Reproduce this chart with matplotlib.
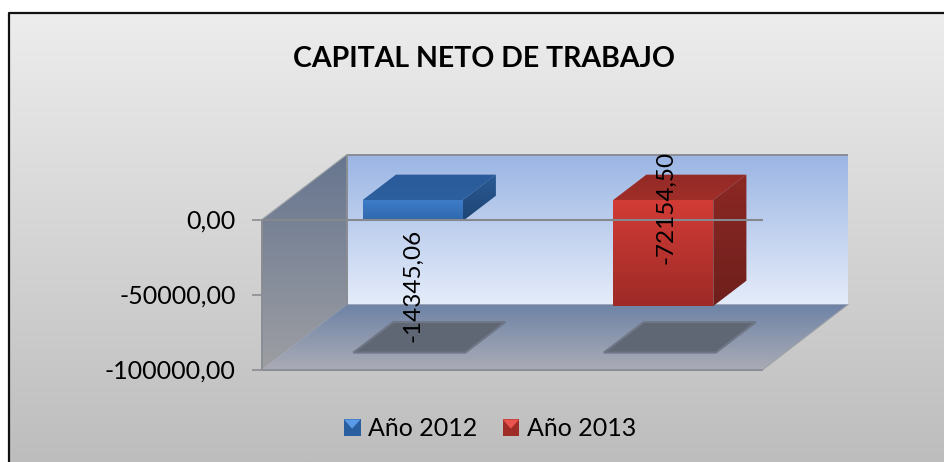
import numpy as np
import matplotlib
matplotlib.use("Agg")
import matplotlib.pyplot as plt
from matplotlib.patches import Polygon, Patch, Rectangle
from matplotlib.colors import LinearSegmentedColormap
from matplotlib.legend_handler import HandlerBase
from matplotlib.ticker import FuncFormatter

# data
categories = ["Año 2012", "Año 2013"]
values = [-14345.06, -72154.50]
value_labels = ["-14345,06", "-72154,50"]
y_ticks = [0, -50000, -100000]
title = "CAPITAL NETO DE TRABAJO"

# style
W, H = 944, 462
FONT = ["Lato", "DejaVu Sans"]
TEXT_SIZE = 18
GREY = "#8a8d93"

BAR_STYLES = [
    {"front": ("#3f7dca", "#2f67ab"), "top": ("#2a5a9a", "#2c609f"), "side": ("#2a5a94", "#1e4575")},
    {"front": ("#d33c36", "#9d2a27"), "top": ("#932a26", "#a02e29"), "side": ("#8c2824", "#6e1f1c")},
]

plt.rcParams["font.family"] = FONT

fig = plt.figure(figsize=(W / 100, H / 100), dpi=100, facecolor="white")

# the axes is the front plane of the 3d box
ax = fig.add_axes([262 / W, 1 - 369.5 / H, 501 / W, 150 / H])
ax.set_xlim(0, 2)
ax.set_ylim(-100000, 0)
ax.patch.set_visible(False)

X_PX = 501 / 2
Y_PX = 150 / 100000
DX = 85 / X_PX      # depth offset, x data units
DY = 65 / Y_PX      # depth offset, y data units
BAR_W = 100 / X_PX
BAR_D0, BAR_D1 = 0.30, 0.69
BAR_K = 0.98        # bars come out slightly shorter than the front scale


def proj(x, y, d=0.0):
    return (x + d * DX, y + d * DY)


def grad_poly(pts, c0, c1, zorder=1):
    # vertical gradient inside a polygon, c0 at the top, c1 at the bottom
    pts = np.array(pts)
    cmap = LinearSegmentedColormap.from_list("g", [c0, c1])
    g = np.linspace(0, 1, 256).reshape(-1, 1)
    im = ax.imshow(g, cmap=cmap, vmin=0, vmax=1, aspect="auto", origin="upper",
                   extent=(pts[:, 0].min(), pts[:, 0].max(), pts[:, 1].min(), pts[:, 1].max()),
                   zorder=zorder, interpolation="bilinear")
    clip = Polygon(pts, closed=True, transform=ax.transData, fill=False, edgecolor="none")
    ax.add_patch(clip)
    im.set_clip_box(fig.bbox)
    im.set_clip_path(clip)
    return im


# figure background and frame (open on the right and at the bottom)
bg_ax = fig.add_axes([0, 0, 1, 1], zorder=-1)
bg_ax.axis("off")
bg_cmap = LinearSegmentedColormap.from_list("bg", ["#ededed", "#bdbdbd"])
bg_ax.imshow(np.linspace(0, 1, 256).reshape(-1, 1), cmap=bg_cmap, aspect="auto",
             extent=(9, W, H, 13), zorder=0)
bg_ax.set_xlim(0, W)
bg_ax.set_ylim(H, 0)
bg_ax.plot([8.5, 8.5, W], [H, 12.5, 12.5], color="#111111", lw=1.6, zorder=2)

# walls
wall_back = [proj(0, 0, 1), proj(2, 0, 1), proj(2, -100000, 1), proj(0, -100000, 1)]
grad_poly(wall_back, "#9bb5e4", "#e4ecf9")
wall_left = [proj(0, 0, 0), proj(0, 0, 1), proj(0, -100000, 1), proj(0, -100000, 0)]
grad_poly(wall_left, "#66758f", "#9d9ea3")
floor = [proj(0, -100000, 0), proj(0, -100000, 1), proj(2, -100000, 1), proj(2, -100000, 0)]
grad_poly(floor, "#6e83a6", "#a9abb5")

# only some box edges carry a strong line
edge = dict(color=GREY, lw=1.4, clip_on=False, zorder=2, solid_capstyle="butt")
for a, b in [(wall_back[0], wall_back[1]), (wall_left[0], wall_left[3]),
             (wall_left[1], wall_left[2]), (floor[0], floor[3])]:
    ax.plot([a[0], b[0]], [a[1], b[1]], **edge)
faint = dict(color="#9ea2a8", lw=0.8, clip_on=False, zorder=2)
for a, b in [(wall_left[0], wall_left[1]), (floor[2], floor[3])]:
    ax.plot([a[0], b[0]], [a[1], b[1]], **faint)

# shadows on the floor, then bars
for i, v in enumerate(values):
    xc = i + 0.5
    x0, x1 = xc - BAR_W / 2, xc + BAR_W / 2
    m = 6 / X_PX
    shadow = [proj(x0 - m, -100000, BAR_D0 - 0.04), proj(x1 + m, -100000, BAR_D0 - 0.04),
              proj(x1 + m, -100000, BAR_D1 + 0.04), proj(x0 - m, -100000, BAR_D1 + 0.04)]
    ax.add_patch(Polygon(shadow, closed=True, facecolor="#5f6775", edgecolor="#6f7787", lw=1.5,
                         clip_on=False, zorder=2))

    v_s = v * BAR_K
    st = BAR_STYLES[i]
    front = [proj(x0, 0, BAR_D0), proj(x1, 0, BAR_D0), proj(x1, v_s, BAR_D0), proj(x0, v_s, BAR_D0)]
    top = [proj(x0, 0, BAR_D0), proj(x0, 0, BAR_D1), proj(x1, 0, BAR_D1), proj(x1, 0, BAR_D0)]
    side = [proj(x1, 0, BAR_D0), proj(x1, 0, BAR_D1), proj(x1, v_s, BAR_D1), proj(x1, v_s, BAR_D0)]
    grad_poly(top, st["top"][0], st["top"][1], zorder=3)
    grad_poly(side, st["side"][0], st["side"][1], zorder=3)
    grad_poly(front, st["front"][0], st["front"][1], zorder=3)

# zero line runs over the bars
ax.plot([0, 2], [0, 0], color="#85888c", lw=1.5, clip_on=False, zorder=4, solid_capstyle="butt")

# value axis
ax.set_yticks(y_ticks)
ax.yaxis.set_major_formatter(FuncFormatter(lambda v, _: f"{v:.2f}".replace(".", ",")))
ax.tick_params(axis="y", length=7, width=1.2, color=GREY, pad=12, labelsize=TEXT_SIZE, labelcolor="black")
ax.set_xticks([])
for s in ax.spines.values():
    s.set_visible(False)
ax.set_xlim(0, 2)
ax.set_ylim(-100000, 0)

# data labels
label_offsets = [(0, -85), (3, -7)]
for i, (v, txt) in enumerate(zip(values, value_labels)):
    ax.annotate(txt, xy=proj(i + 0.5, 0, BAR_D0), xytext=(label_offsets[i][0] * 0.72, label_offsets[i][1] * 0.72),
                textcoords="offset points", rotation=90, ha="center", va="center",
                fontsize=17.5, color="black", zorder=6, annotation_clip=False)

# title
fig.text(484 / W, 1 - 59 / H, title, ha="center", va="center", fontsize=20.5, fontweight="bold", color="black")


# legend keys have the bevelled look of the original
class BevelHandler(HandlerBase):
    def create_artists(self, legend, orig, xd, yd, width, height, fontsize, trans):
        s = 12.0
        x = xd * -1 + width - s
        y = -yd + (height - s) / 2
        dark = orig.get_edgecolor()
        light = orig.get_facecolor()
        base = Rectangle((x, y), s, s, facecolor=dark, edgecolor="none", transform=trans)
        tri = Polygon([(x, y + s), (x + s, y + s), (x + s / 2, y + s * 0.45)], closed=True,
                      facecolor=light, edgecolor="none", transform=trans)
        return [base, tri]


handles = [Patch(facecolor="#5b9ae8", edgecolor="#2a5f9f"), Patch(facecolor="#ea544e", edgecolor="#a02c28")]
fig.legend(handles, categories, handler_map={Patch: BevelHandler()}, loc="center",
           bbox_to_anchor=(489.5 / W, 1 - 429 / H), ncol=2, frameon=False,
           fontsize=TEXT_SIZE, handlelength=0.7, handletextpad=0.3, columnspacing=0.98)

fig.savefig("out.png", dpi=100)
